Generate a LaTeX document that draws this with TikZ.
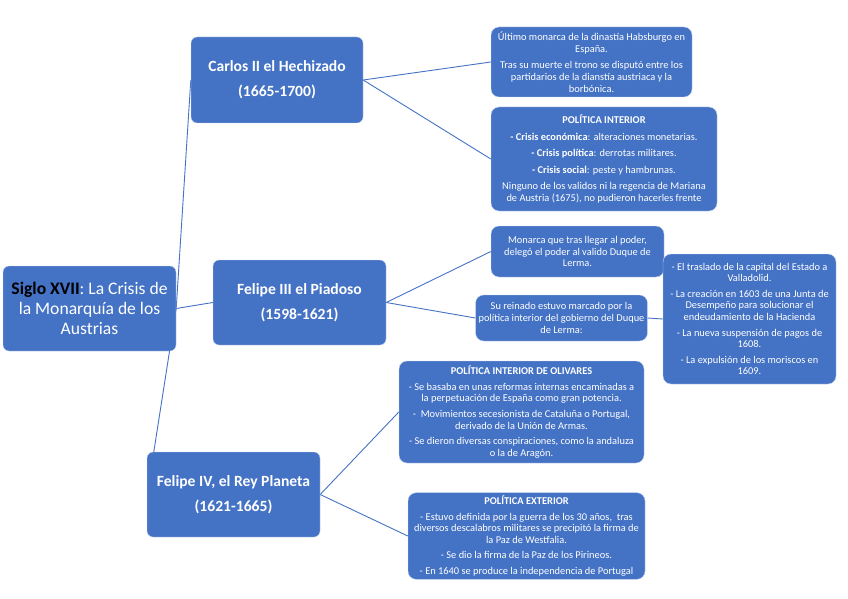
\documentclass[tikz,border=0pt]{standalone}
\usepackage{fontspec}
\setmainfont{Carlito}
\usepackage{tikz}
\usetikzlibrary{positioning,backgrounds}
\definecolor{mBlue}{RGB}{68,114,196}
\definecolor{mEdge}{RGB}{200,212,236}
\tikzset{
  root/.style={rectangle, rounded corners=6pt, draw=mEdge, fill=mBlue,
               text=white, align=center, inner sep=2pt,
               font=\fontsize{17.6}{20}\selectfont},
  king/.style={root, font=\fontsize{15.6}{18}\selectfont\bfseries},
  note/.style={root, rounded corners=8pt, inner sep=3pt,
               font=\fontsize{10.4}{11.6}\selectfont},
  link/.style={draw=mBlue, line width=0.9pt},
}
\begin{document}
\begin{tikzpicture}[x=1pt,y=-1pt]
  \useasboundingbox (0,0) rectangle (848,599);

  % root and reigns
  \node[root, minimum width=173pt, minimum height=85pt] (root) at (89.5,308.5)
    {\textcolor{black}{\textbf{Siglo XVII}}: La Crisis de\\ la Monarquía de los\\ Austrias};
  \node[king, minimum width=172pt, minimum height=86pt] (carlos) at (277,80)
    {Carlos II el Hechizado\\[7pt] (1665-1700)};
  \node[king, minimum width=173pt, minimum height=85pt] (felipeiii) at (299.5,302.5)
    {Felipe III el Piadoso\\[7pt] (1598-1621)};
  \node[king, minimum width=173pt, minimum height=85pt] (felipeiv) at (233.5,494.5)
    {Felipe IV, el Rey Planeta\\[7pt] (1621-1665)};

  % notes -- Carlos II
  \node[note, minimum width=201pt, minimum height=70pt] (c1) at (591.5,62)
    {Último monarca de la dinastía Habsburgo en\\ España.\\[5pt]
     Tras su muerte el trono se disputó entre los\\ partidarios de la dianstía austriaca y la\\ borbónica.};
  \node[note, minimum width=226pt, minimum height=104pt] (c2) at (604,159)
    {\textbf{POLÍTICA INTERIOR}\\[5pt]
     \textbf{- Crisis económica}: alteraciones monetarias.\\[5pt]
     \textbf{- Crisis política}: derrotas militares.\\[5pt]
     \textbf{- Crisis social}: peste y hambrunas.\\[5pt]
     Ninguno de los validos ni la regencia de Mariana\\ de Austria (1675), no pudieron hacerles frente};

  % notes -- Felipe III
  \node[note, minimum width=173pt, minimum height=51pt] (f3a) at (577.5,251.5)
    {Monarca que tras llegar al poder,\\ delegó el poder al valido Duque de\\ Lerma.};
  \node[note, minimum width=171pt, minimum height=46pt] (f3b) at (561.5,318)
    {Su reinado estuvo marcado por la\\ política interior del gobierno del Duque\\ de Lerma:};
  \node[note, minimum width=173pt, minimum height=130pt] (f3c) at (749.5,319)
    {- El traslado de la capital del Estado a\\ Valladolid.\\[4pt]
     - La creación en 1603 de una Junta de\\ Desempeño para solucionar el\\ endeudamiento de la Hacienda\\[4pt]
     - La nueva suspensión de pagos de\\ 1608.\\[4pt]
     - La expulsión de los moriscos en\\ 1609.};

  % notes -- Felipe IV
  \node[note, minimum width=245pt, minimum height=102pt] (f4a) at (521.5,412)
    {\textbf{POLÍTICA INTERIOR DE OLIVARES}\\[4pt]
     - Se basaba en unas reformas internas encaminadas a\\ la perpetuación de España como gran potencia.\\[4pt]
     -\ \ Movimientos secesionista de Cataluña o Portugal,\\ derivado de la Unión de Armas.\\[4pt]
     - Se dieron diversas conspiraciones, como la andaluza\\ o la de Aragón.};
  \node[note, minimum width=237pt, minimum height=86pt] (f4b) at (526.5,536)
    {\textbf{POLÍTICA EXTERIOR}\\[4pt]
     - Estuvo definida por la guerra de los 30 años,\ \ tras\\ diversos descalabros militares se precipitó la firma de\\ la Paz de Westfalia.\\[4pt]
     - Se dio la firma de la Paz de los Pirineos.\\[4pt]
     - En 1640 se produce la independencia de Portugal};

  % connectors
  \begin{scope}[on background layer]
    \draw[link] (root.east) -- (carlos.west);
    \draw[link] (root.east) -- (felipeiii.west);
    \draw[link] (root.east) -- ([xshift=7pt]felipeiv.north west);
    \draw[link] (carlos.east) -- (c1.west);
    \draw[link] (carlos.east) -- (c2.west);
    \draw[link] (felipeiii.east) -- (f3a.west);
    \draw[link] (felipeiii.east) -- (f3b.west);
    \draw[link] (f3b.east) -- (f3c.west);
    \draw[link] (felipeiv.east) -- (f4a.west);
    \draw[link] (felipeiv.east) -- (f4b.west);
  \end{scope}
\end{tikzpicture}
\end{document}
